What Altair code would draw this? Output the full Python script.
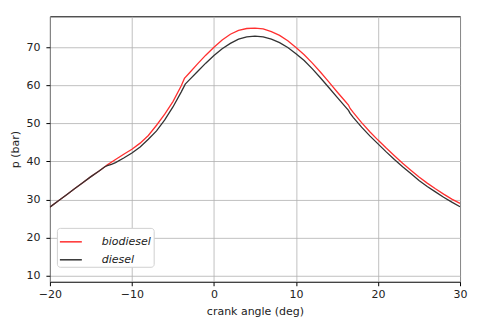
import altair as alt
import pandas as pd

angle_bio = [-20, -19, -18, -17, -16, -15, -14, -13.3, -13, -12, -11, -10, -9, -8, -7, -6, -5, -4, -3.6, -3,
             -2, -1, 0, 1, 2, 3, 4, 5, 6, 7, 8, 9, 10, 11, 12, 13, 14, 15, 16, 16.4, 16.6,
             17, 18, 19, 20, 21, 22, 23, 24, 25, 26, 27, 28, 29, 30]
p_bio = [28.0, 29.6, 31.2, 32.8, 34.4, 36.0, 37.5, 38.6, 39.1, 40.5, 41.9, 43.2, 44.8, 46.8, 49.5, 52.4, 55.7, 59.8, 61.8, 63.2,
         65.6, 67.9, 70.0, 71.9, 73.4, 74.4, 74.9, 75.0, 74.8, 74.1, 73.1, 71.7, 69.9, 68.0, 65.8, 63.4, 60.9, 58.3, 55.8, 54.8, 53.9,
         52.8, 50.2, 47.8, 45.6, 43.5, 41.5, 39.5, 37.7, 35.9, 34.3, 32.8, 31.4, 30.1, 29.0]

angle_dsl = [-20, -19, -18, -17, -16, -15, -14, -13.3, -13, -12.5, -12, -11, -10, -9, -8, -7, -6, -5, -4, -3.5, -3,
             -2, -1, 0, 1, 2, 3, 4, 5, 6, 7, 8, 9, 10, 11, 12, 13, 14, 15, 16, 16.4, 16.6,
             17, 18, 19, 20, 21, 22, 23, 24, 25, 26, 27, 28, 29, 30]
p_dsl = [28.0, 29.6, 31.2, 32.8, 34.4, 36.0, 37.5, 38.6, 38.9, 39.2, 39.7, 40.9, 42.2, 43.8, 45.8, 48.0, 50.9, 54.3, 58.2, 60.3, 61.4,
         63.6, 65.8, 67.8, 69.6, 71.0, 72.1, 72.7, 72.9, 72.7, 72.1, 71.2, 69.9, 68.3, 66.5, 64.3, 61.9, 59.4, 56.9, 54.4, 53.4, 52.6,
         51.5, 49.0, 46.7, 44.6, 42.5, 40.5, 38.6, 36.8, 35.0, 33.4, 32.0, 30.6, 29.3, 28.1]

series = ["biodiesel", "diesel"]
colors = ["#ff3030", "#333333"]
x_ticks = [-20, -10, 0, 10, 20, 30]
y_ticks = [10, 20, 30, 40, 50, 60, 70]

rows = []
for i, (a, p) in enumerate(zip(angle_bio, p_bio)):
    rows.append({"angle": a, "p": p, "fuel": "biodiesel", "order": i})
for i, (a, p) in enumerate(zip(angle_dsl, p_dsl)):
    rows.append({"angle": a, "p": p, "fuel": "diesel", "order": i})
df = pd.DataFrame(rows)

chart = alt.Chart(df).mark_line(strokeWidth=1.3, clip=True).encode(
    x=alt.X("angle:Q", title="crank angle (deg)",
            scale=alt.Scale(domain=[-20, 30], nice=False, zero=False),
            axis=alt.Axis(values=x_ticks, format="d", labelFlush=False)),
    y=alt.Y("p:Q", title="p (bar)",
            scale=alt.Scale(domain=[8.4, 78.1], nice=False, zero=False),
            axis=alt.Axis(values=y_ticks)),
    color=alt.Color("fuel:N", scale=alt.Scale(domain=series, range=colors),
                    legend=alt.Legend(title=None, orient="none", legendX=7, legendY=212,
                                      symbolType="stroke", symbolSize=484, symbolStrokeWidth=1.5,
                                      labelFontSize=11, labelFontStyle="italic", labelOffset=19,
                                      padding=2, rowPadding=1, strokeColor="#d0d0d0",
                                      cornerRadius=3, fillColor="white", labelColor="#222222",
                                      labelLimit=200)),
    order="order:Q",
).properties(
    width=411, height=266,
    autosize=alt.AutoSizeParams(type="none"),
    padding={"left": 42, "top": 8, "right": 12, "bottom": 40},
).configure(
    font="DejaVu Sans",
).configure_view(
    stroke="black", strokeWidth=1,
).configure_axis(
    domain=False, grid=True, gridColor="#b0b0b0", gridWidth=0.8,
    tickColor="black", tickSize=4, tickWidth=1,
    labelFontSize=11, labelColor="#222222",
    titleFontSize=11, titleFontWeight="normal", titleColor="#222222",
).configure_axisX(
    titlePadding=6, labelPadding=3,
).configure_axisY(
    titlePadding=5, labelPadding=6,
)

chart.save("out.html", embed_options={"renderer": "svg", "actions": False})
